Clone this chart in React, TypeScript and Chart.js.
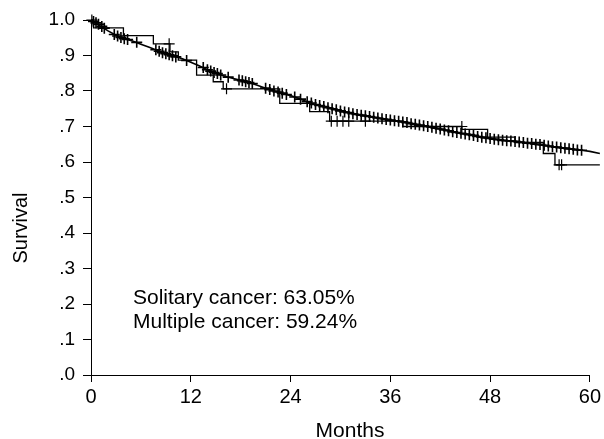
import React, { useEffect, useRef } from "react";
import { Chart, registerables } from "chart.js";

Chart.register(...registerables);

// ---- Data ----
const xTickValues = [0, 12, 24, 36, 48, 60];
const xTickLabels = ["0", "12", "24", "36", "48", "60"];
const yTickValues = [0, 0.1, 0.2, 0.3, 0.4, 0.5, 0.6, 0.7, 0.8, 0.9, 1.0];
const yTickLabels = [".0", ".1", ".2", ".3", ".4", ".5", ".6", ".7", ".8", ".9", "1.0"];

const xTitle = "Months";
const yTitle = "Survival";
const legendLines = ["Solitary cancer: 63.05%", "Multiple cancer: 59.24%"];

// Solitary cancer survival curve (months, survival)
const solitaryMonths = [
  0, 1, 2, 3, 4, 5, 6, 7, 8, 9, 10, 11, 12, 13, 14, 15, 16, 17, 18, 19, 20,
  21, 22, 23, 24, 25, 26, 27, 28, 29, 30, 31, 32, 33, 34, 35, 36, 37, 38, 39,
  40, 41, 42, 43, 44, 45, 46, 47, 48, 49, 50, 51, 52, 53, 54, 55, 56, 57, 58,
  59, 60, 61.2,
];
const solitarySurv = [
  1.0, 0.985, 0.97, 0.957, 0.947, 0.941, 0.932, 0.923, 0.914, 0.905, 0.898,
  0.891, 0.881, 0.871, 0.86, 0.85, 0.842, 0.836, 0.83, 0.824, 0.816, 0.808,
  0.8, 0.794, 0.787, 0.779, 0.77, 0.762, 0.756, 0.75, 0.744, 0.739, 0.734,
  0.73, 0.726, 0.722, 0.718, 0.715, 0.711, 0.706, 0.702, 0.698, 0.693, 0.688,
  0.683, 0.679, 0.675, 0.67, 0.666, 0.663, 0.66, 0.658, 0.655, 0.652, 0.649,
  0.645, 0.642, 0.639, 0.636, 0.633, 0.63, 0.624,
];

// Solitary cancer censored observations
const solitaryCensorMonths = [
  0.3, 0.6, 0.9, 1.3, 1.6, 2.8, 3.2, 3.6, 4.0, 4.4, 5.5, 7.8, 8.2, 8.6, 9.0,
  9.4, 9.8, 10.2, 11.5, 13.5, 14.0, 14.4, 14.8, 15.2, 15.6, 16.5, 17.8, 18.2,
  18.6, 19.0, 19.4, 21.0, 21.5, 22.0, 22.5, 23.0, 23.5, 24.5, 25.2, 26.0,
  26.5, 27.0, 27.5, 28.0, 28.5, 29.0, 29.5, 30.0, 30.5, 31.0, 31.5, 32.0,
  32.5, 33.0, 33.5, 34.0, 34.5, 35.0, 35.5, 36.0, 36.5, 37.0, 37.5, 38.0,
  38.5, 39.0, 39.5, 40.0, 40.5, 41.0, 41.5, 42.0, 42.5, 43.0, 43.5, 44.0,
  44.5, 45.0, 45.5, 46.0, 46.5, 47.0, 47.5, 48.0, 48.5, 49.0, 49.5, 50.0,
  50.5, 51.0, 51.5, 52.0, 52.5, 53.0, 53.5, 54.0, 54.5, 55.0, 55.5, 56.0,
  56.5, 57.0, 57.5, 58.0, 58.5, 59.0,
];
const solitaryCensorSurv = [
  0.996, 0.992, 0.988, 0.982, 0.977, 0.959, 0.955, 0.951, 0.947, 0.945,
  0.937, 0.916, 0.912, 0.908, 0.905, 0.902, 0.899, 0.896, 0.886, 0.866,
  0.86, 0.856, 0.852, 0.849, 0.845, 0.839, 0.831, 0.829, 0.826, 0.824,
  0.821, 0.808, 0.804, 0.8, 0.797, 0.794, 0.79, 0.783, 0.777, 0.77, 0.766,
  0.762, 0.759, 0.756, 0.753, 0.75, 0.747, 0.744, 0.741, 0.739, 0.736,
  0.734, 0.732, 0.73, 0.728, 0.726, 0.724, 0.722, 0.72, 0.718, 0.716, 0.715,
  0.713, 0.711, 0.708, 0.706, 0.704, 0.702, 0.7, 0.698, 0.695, 0.693, 0.69,
  0.688, 0.685, 0.683, 0.681, 0.679, 0.677, 0.675, 0.672, 0.67, 0.668,
  0.666, 0.664, 0.663, 0.661, 0.66, 0.659, 0.658, 0.656, 0.655, 0.653,
  0.652, 0.65, 0.649, 0.647, 0.645, 0.643, 0.642, 0.64, 0.639, 0.637, 0.636,
  0.634, 0.633,
];

// Multiple cancer step curve (event months, survival after the event)
const multipleMonths = [
  0, 0.3, 3.9, 7.5, 9.5, 10.5, 12.7, 14.7, 15.9, 22.7, 26.3, 28.7, 37.5,
  44.6, 47.7, 51.0, 54.4, 55.8, 61.2,
];
const multipleSurv = [
  1.0, 0.978, 0.956, 0.933, 0.91, 0.887, 0.845, 0.826, 0.806, 0.765, 0.742,
  0.715, 0.7, 0.692, 0.67, 0.655, 0.624, 0.592, 0.592,
];

// Multiple cancer censored observations
const multipleCensorMonths = [0.1, 9.4, 16.3, 28.9, 29.6, 30.3, 31.0, 33.0, 44.6, 56.3, 56.6];
const multipleCensorSurv = [1.0, 0.933, 0.806, 0.715, 0.715, 0.715, 0.715, 0.715, 0.7, 0.592, 0.592];

const X_MIN = 0;
const X_MAX = 60;

const FONT = "'Liberation Sans', Arial, Helvetica, sans-serif";

const toPoints = (xs: number[], ys: number[]) => xs.map((x, i) => ({ x, y: ys[i] }));

const textPlugin = {
  id: "kmTexts",
  afterDraw(chart: any) {
    const ctx = chart.ctx as CanvasRenderingContext2D;
    ctx.save();
    ctx.fillStyle = "#000";
    ctx.font = `21px ${FONT}`;
    ctx.textAlign = "left";
    ctx.textBaseline = "alphabetic";
    ctx.fillText(legendLines[0], 133, 304);
    ctx.fillText(legendLines[1], 133, 328);
    ctx.textAlign = "center";
    ctx.fillText(xTitle, 350, 437);
    ctx.font = `20px ${FONT}`;
    ctx.translate(27, 228);
    ctx.rotate(-Math.PI / 2);
    ctx.fillText(yTitle, 0, 0);
    ctx.restore();
  },
};

export default function App() {
  const ref = useRef<HTMLCanvasElement | null>(null);

  useEffect(() => {
    if (!ref.current) return;
    const chart = new Chart(ref.current, {
      type: "line",
      data: {
        datasets: [
          {
            label: "Solitary",
            data: toPoints(solitaryMonths, solitarySurv),
            borderColor: "#000",
            borderWidth: 1.6,
            pointRadius: 0,
            fill: false,
            clip: false as any,
          },
          {
            label: "Multiple",
            data: toPoints(multipleMonths, multipleSurv),
            borderColor: "#000",
            borderWidth: 1.3,
            pointRadius: 0,
            stepped: true,
            fill: false,
            clip: false as any,
          },
          {
            label: "Solitary censored",
            data: toPoints(solitaryCensorMonths, solitaryCensorSurv),
            showLine: false,
            pointStyle: "cross",
            pointRadius: 5.5,
            borderColor: "#000",
            borderWidth: 1.6,
            clip: false as any,
          },
          {
            label: "Multiple censored",
            data: toPoints(multipleCensorMonths, multipleCensorSurv),
            showLine: false,
            pointStyle: "cross",
            pointRadius: 5.5,
            borderColor: "#000",
            borderWidth: 1.2,
            clip: false as any,
          },
        ],
      },
      options: {
        animation: false,
        responsive: false,
        devicePixelRatio: 1,
        layout: { padding: { left: 0, top: 20, right: 14, bottom: 0 } },
        plugins: {
          legend: { display: false },
          tooltip: { enabled: false },
          title: { display: false },
        },
        scales: {
          x: {
            type: "linear",
            bounds: "data",
            afterDataLimits: (s: any) => {
              s.min = X_MIN;
              s.max = X_MAX;
            },
            afterBuildTicks: (s: any) => {
              s.min = X_MIN;
              s.max = X_MAX;
              s.ticks = xTickValues.map((v) => ({ value: v }));
            },
            afterFit: (s: any) => {
              s.height = 64;
            },
            ticks: {
              color: "#000",
              font: { family: FONT, size: 20 },
              padding: 3,
              maxRotation: 0,
              autoSkip: false,
              callback: (v: any) => {
                const i = xTickValues.indexOf(Number(v));
                return i >= 0 ? xTickLabels[i] : "";
              },
            },
            grid: {
              display: true,
              drawOnChartArea: false,
              drawTicks: true,
              tickLength: 7,
              color: "#000",
              lineWidth: 1,
            },
            border: { display: true, color: "#000", width: 1 },
          },
          y: {
            type: "linear",
            min: 0,
            max: 1,
            afterBuildTicks: (s: any) => {
              s.ticks = yTickValues.map((v) => ({ value: v }));
            },
            afterFit: (s: any) => {
              s.width = 91;
            },
            ticks: {
              color: "#000",
              font: { family: FONT, size: 19 },
              padding: 8,
              autoSkip: false,
              callback: (v: any) => {
                const i = yTickValues.findIndex((t) => Math.abs(t - Number(v)) < 1e-6);
                return i >= 0 ? yTickLabels[i] : "";
              },
            },
            grid: {
              display: true,
              drawOnChartArea: false,
              drawTicks: true,
              tickLength: 8,
              color: "#000",
              lineWidth: 1,
            },
            border: { display: true, color: "#000", width: 1 },
          },
        },
      },
      plugins: [textPlugin],
    });
    return () => chart.destroy();
  }, []);

  return (
    <div style={{ position: "absolute", left: 0, top: 0, width: 604, height: 439, background: "#fff" }}>
      <canvas ref={ref} width={604} height={439} style={{ display: "block" }} />
    </div>
  );
}
